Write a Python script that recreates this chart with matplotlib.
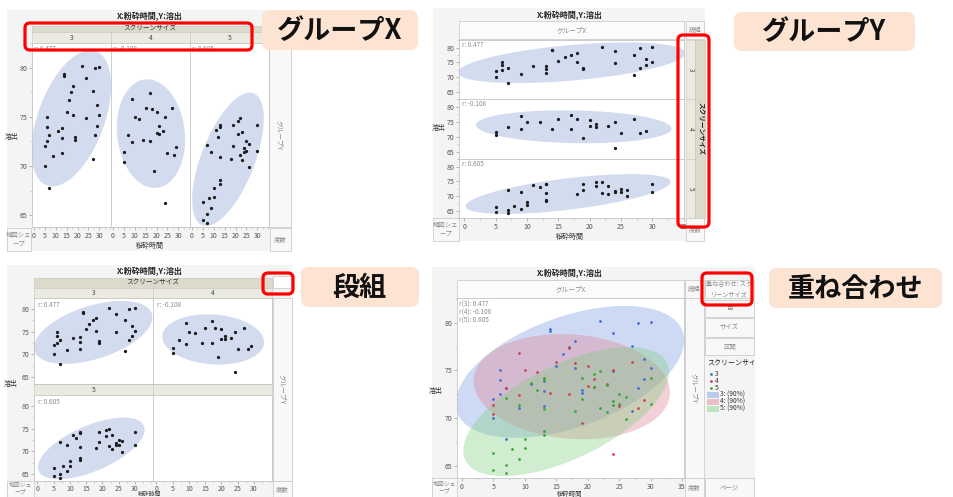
import numpy as np
import matplotlib
matplotlib.use("Agg")
import matplotlib.pyplot as plt
from matplotlib.patches import Rectangle, FancyBboxPatch
from matplotlib.ticker import MultipleLocator

plt.rcParams['font.family'] = ['Noto Sans CJK JP', 'DejaVu Sans']

W, H = 954, 497

# ---- data: grinding time (x) vs dissolution (y) by screen size ----
screen_sizes = ["3", "4", "5"]
r_values = [0.477, -0.108, 0.605]

grind_3 = [5, 5, 6, 6, 6, 7, 7, 9, 11, 13, 13, 13, 14, 14, 15, 16, 17, 18, 18, 19,
           19, 22, 24, 24, 27, 27, 28, 28, 29, 29, 30, 30]
dissol_3 = [72.0, 70.0, 75.0, 74.0, 72.5, 73.1, 67.8, 71.0, 73.6, 73.9, 72.8, 71.3,
            79.3, 79.1, 75.5, 76.7, 77.5, 78.1, 75.2, 72.9, 72.6, 80.2, 78.9, 74.9,
            77.6, 70.7, 80.0, 73.2, 76.2, 74.1, 80.1, 75.2]

grind_4 = [5, 5, 7, 9, 9, 10, 12, 14, 15, 17, 17, 18, 19, 20, 20, 21, 21, 23, 24, 24,
           25, 27, 28, 29]
dissol_4 = [71.4, 70.4, 73.2, 76.8, 72.4, 75.0, 74.8, 72.6, 75.9, 77.4, 72.5, 75.8,
            69.5, 75.5, 73.4, 74.1, 73.3, 73.6, 75.0, 66.2, 71.3, 75.9, 71.1, 71.9]

grind_5 = [5, 5, 7, 7, 7, 8, 9, 9, 10, 10, 11, 12, 13, 13, 13, 13, 13, 18, 19, 19,
           21, 21, 22, 22, 23, 23, 24, 24, 25, 25, 26, 26, 30, 30]
dissol_5 = [66.3, 64.5, 72.1, 65.1, 64.2, 66.7, 71.4, 65.7, 67.8, 66.8, 73.7, 72.9,
            74.2, 74.0, 70.9, 68.6, 68.2, 70.7, 74.2, 72.0, 74.6, 73.3, 74.9, 71.1,
            73.5, 70.6, 71.8, 71.4, 72.5, 71.5, 72.2, 69.9, 74.2, 71.5]

x_ticks_short = [0, 5, 10, 15, 20, 25, 30]
x_ticks_long = [0, 5, 10, 15, 20, 25, 30, 35]
y_ticks = [65, 70, 75, 80]

groups = [(grind_3, dissol_3), (grind_4, dissol_4), (grind_5, dissol_5)]

title_txt = "X:粉砕時間,Y:溶出"
x_name = "粉砕時間"
y_name = "溶出"

# 90% bivariate-normal density ellipse: sqrt(chi2_2(0.90)) = sqrt(-2 ln 0.1)
ELLIPSE_K = np.sqrt(-2 * np.log(0.10))

# ---- styling ----
WIN_BG = "#f4f4f4"
ZONE_BG = "#f8f8f8"
ZONE_EC = "#cdcdcd"
ZONE_TXT = "#8a8a8a"
BAND_DARK = "#dcdacb"
BAND_LIGHT = "#ebeae1"
ELL_FILL = "#d3dcef"
DOT = "#1c1c1c"
OV_DOTS = ["#3d6bd6", "#d03c4e", "#35a535"]
OV_FILLS = ["#7799e0", "#e07f95", "#7fcf7f"]
PEACH = "#fde4d2"
RED = "#ff0000"

fig = plt.figure(figsize=(W / 100, H / 100), dpi=100)
fig.patch.set_facecolor("white")


def pixel_layer(z):
    ax = fig.add_axes([0, 0, 1, 1], zorder=z)
    ax.set_xlim(0, W)
    ax.set_ylim(H, 0)
    ax.axis("off")
    return ax


bg = pixel_layer(0)
fg = pixel_layer(6)


def rect(ax, x0, y0, x1, y1, fc, ec="none", lw=0.6, z=1):
    ax.add_patch(Rectangle((x0, y0), x1 - x0, y1 - y0, facecolor=fc,
                           edgecolor=ec, linewidth=lw, zorder=z))


def txt(ax, x, y, s, size=5, color=ZONE_TXT, ha="center", va="center", **kw):
    ax.text(x, y, s, fontsize=size, color=color, ha=ha, va=va, **kw)


def zone(x0, y0, x1, y1, label=None, size=4.8, rot=0, color=ZONE_TXT, fc=ZONE_BG,
         cy=None, ls=1.3, **kw):
    rect(bg, x0, y0, x1, y1, fc, ZONE_EC, 0.6)
    if label:
        yy = (y0 + y1) / 2 if cy is None else cy
        txt(bg, (x0 + x1) / 2, yy, label, size=size, color=color,
            rotation=rot, linespacing=ls, **kw)


def red_box(x0, y0, x1, y1):
    fg.add_patch(FancyBboxPatch((x0, y0), x1 - x0, y1 - y0,
                                boxstyle="round,pad=0,rounding_size=5",
                                facecolor="none", edgecolor=RED, linewidth=2.3, zorder=8))


def callout(x0, y0, x1, y1, label):
    fg.add_patch(FancyBboxPatch((x0, y0), x1 - x0, y1 - y0,
                                boxstyle="round,pad=0,rounding_size=8",
                                facecolor=PEACH, edgecolor="none", zorder=7))
    txt(fg, (x0 + x1) / 2, (y0 + y1) / 2 + 1, label, size=19.5, color="#111111",
        fontweight="bold", zorder=9)


def plot_axes(x0, y0, x1, y1, xlim, ylim, xt=None, yt=True, xpad=1.2):
    ax = fig.add_axes([x0 / W, 1 - y1 / H, (x1 - x0) / W, (y1 - y0) / H], zorder=2)
    ax.set_xlim(*xlim)
    ax.set_ylim(*ylim)
    ax.set_facecolor("white")
    for sp in ax.spines.values():
        sp.set_color("#c4c4c4")
        sp.set_linewidth(0.6)
    if xt is None:
        ax.set_xticks([])
    else:
        ax.set_xticks(xt)
        ax.xaxis.set_minor_locator(MultipleLocator(2.5))
    if yt:
        ax.set_yticks(y_ticks)
        ax.yaxis.set_minor_locator(MultipleLocator(2.5))
    else:
        ax.set_yticks([])
    ax.tick_params(which="major", length=2.2, width=0.5, color="#9a9a9a",
                   labelsize=5, labelcolor="#555555", pad=1.2)
    ax.tick_params(which="minor", length=1.2, width=0.4, color="#b4b4b4")
    ax.tick_params(axis="x", which="major", pad=xpad)
    return ax


def ellipse_xy(gx, gy, k=ELLIPSE_K, n=240):
    gx = np.asarray(gx, float)
    gy = np.asarray(gy, float)
    vals, vecs = np.linalg.eigh(np.cov(gx, gy))
    t = np.linspace(0, 2 * np.pi, n)
    circ = np.vstack([np.cos(t), np.sin(t)]) * (k * np.sqrt(vals))[:, None]
    pts = vecs @ circ
    return gx.mean() + pts[0], gy.mean() + pts[1]


def draw_group(ax, gx, gy, s=5.5):
    ex, ey = ellipse_xy(gx, gy)
    ax.fill(ex, ey, color=ELL_FILL, lw=0, zorder=1)
    ax.scatter(gx, gy, s=s, color=DOT, lw=0, zorder=3)


def window(x0, y0, x1, y1, cx, ty):
    rect(bg, x0, y0, x1, y1, WIN_BG, "none", 0, z=0)
    txt(bg, cx, ty, title_txt, size=5.8, color="#222222", fontweight="bold")


def r_label(x, y, s):
    txt(fg, x, y, s, size=4.6, color="#8c8c8c", ha="left", zorder=3)


# =================== Panel 1: group X (columns by screen size) ===================
window(7, 10, 292, 251, 150, 16)
rect(bg, 32, 26, 269, 32, BAND_DARK, "#c9c8b8", 0.5)
txt(bg, 150, 29, "スクリーンサイズ", size=4.8, color="#333333")
col_edges = [32, 111, 190, 269]
for i, sz in enumerate(screen_sizes):
    rect(bg, col_edges[i], 32, col_edges[i + 1], 43, BAND_LIGHT, "#cfcdc0", 0.5)
    txt(bg, (col_edges[i] + col_edges[i + 1]) / 2, 37.5, sz, size=4.8, color="#444444")
for i, (gx, gy) in enumerate(groups):
    ax = plot_axes(col_edges[i], 43, col_edges[i + 1], 227, (-0.8, 35.3), (63.8, 82.5),
                   xt=x_ticks_short, yt=(i == 0))
    draw_group(ax, gx, gy)
    r_label(col_edges[i] + 2, 49, f"r: {r_values[i]:.3f}")
zone(269, 43, 291, 227, "グループY", rot=270)
zone(269, 26, 291, 43)
zone(7, 228, 31, 251, "地図シェ\nープ", size=4.6)
zone(270, 228, 291, 251, "度数", size=4.6)
txt(bg, 12, 137, y_name, size=5, color="#333333")
txt(bg, 150, 246, x_name, size=5, color="#333333")
red_box(25, 23, 252, 50)
callout(262, 10, 418, 50, "グループX")

# =================== Panel 2: group Y (rows by screen size) ===================
window(433, 8, 705, 241, 570, 15)
zone(459, 21, 684, 39, "グループX", fc="#fbfbfb")
zone(686, 21, 704, 39, "段組", size=4.6)
row_edges = [40, 99, 159, 218]
for i, (gx, gy) in enumerate(groups):
    ax = plot_axes(459, row_edges[i], 684, row_edges[i + 1], (-0.85, 35.05), (62.5, 82.6),
                   xt=(x_ticks_long if i == 2 else None), yt=True)
    draw_group(ax, gx, gy)
    r_label(462, row_edges[i] + 5, f"r: {r_values[i]:.3f}")
    rect(bg, 686, row_edges[i], 695, row_edges[i + 1], BAND_LIGHT, "#cfcdc0", 0.5)
    txt(bg, 690.5, (row_edges[i] + row_edges[i + 1]) / 2, screen_sizes[i], size=4.6,
        color="#444444", rotation=270)
rect(bg, 695, 40, 705, 218, BAND_DARK, "#c9c8b8", 0.5)
txt(bg, 700.2, 129, "スクリーンサイズ", size=4.8, color="#222222", rotation=270,
    fontweight="bold")
zone(433, 218, 459, 241, "地図シェ\nープ", size=4.6)
zone(686, 218, 704, 241, "度数", size=4.6)
txt(bg, 439, 128, y_name, size=5, color="#333333")
txt(bg, 570, 237, x_name, size=5, color="#333333")
red_box(678, 35, 709, 227)
callout(734, 12, 915, 51, "グループY")

# =================== Panel 3: wrap ===================
window(7, 265, 292, 497, 150, 271)
rect(bg, 34, 278, 272, 288, BAND_DARK, "#c9c8b8", 0.5)
txt(bg, 153, 283, "スクリーンサイズ", size=4.8, color="#333333")
wrap_cells = [(34, 153, 298, 384), (153, 272, 298, 384), (34, 153, 395, 481)]
for i, sz in enumerate(screen_sizes[:2]):
    x0, x1 = wrap_cells[i][0], wrap_cells[i][1]
    rect(bg, x0, 288, x1, 298, BAND_LIGHT, "#cfcdc0", 0.5)
    txt(bg, (x0 + x1) / 2, 293, sz, size=4.8, color="#444444")
rect(bg, 34, 384, 153, 395, BAND_LIGHT, "#cfcdc0", 0.5)
rect(bg, 153, 384, 272, 395, BAND_LIGHT, "#cfcdc0", 0.5)
txt(bg, 93.5, 389.5, screen_sizes[2], size=4.8, color="#444444")
for i, (gx, gy) in enumerate(groups):
    x0, x1, y0, y1 = wrap_cells[i]
    ax = plot_axes(x0, y0, x1, y1, (-1.0, 35.5), (63.5, 82.4),
                   xt=(x_ticks_short if i == 2 else None), yt=(i != 1), xpad=0.4)
    draw_group(ax, gx, gy)
    r_label(x0 + 4, y0 + 7, f"r: {r_values[i]:.3f}")
plot_axes(153, 395, 272, 481, (-1.0, 35.5), (63.5, 82.4), xt=x_ticks_short, yt=False,
          xpad=0.4)
zone(273, 298, 292, 481, "グループY", rot=270)
zone(273, 276, 291, 288, fc="#fdfdfd")
zone(7, 481, 34, 503, "地図シェ\nープ", size=4.2, cy=488.5, ls=1.1)
zone(273, 481, 292, 503, "度数", size=4.6, cy=489)
txt(bg, 11, 384, y_name, size=5, color="#333333")
txt(bg, 150, 494.6, x_name, size=4.2, color="#333333")
red_box(263, 273, 293, 294)
callout(301, 267, 419, 307, "段組")

# =================== Panel 4: overlay ===================
window(432, 267, 755, 497, 570, 273)
zone(457, 280, 684, 298, "グループX", fc="#fbfbfb")
zone(685, 280, 704, 298, "段組", size=4.6)
zone(705, 280, 754, 298, "重ね合わせ: スク\nリーンサイズ", size=4.4)
zone(705, 300, 754, 317, "色", size=4.6)
zone(705, 318, 754, 337, "サイズ", size=4.6)
zone(705, 338, 754, 355, "区間", size=4.6)
ax = plot_axes(457, 298, 684, 478, (-0.8, 35.3), (63.7, 82.6), xt=x_ticks_long, yt=True)
for i, (gx, gy) in enumerate(groups):
    ex, ey = ellipse_xy(gx, gy)
    ax.fill(ex, ey, color=OV_FILLS[i], alpha=0.36, lw=0, zorder=1 + i * 0.1)
for i, (gx, gy) in enumerate(groups):
    ax.scatter(gx, gy, s=3.8, color=OV_DOTS[i], lw=0, zorder=3)
for i in range(3):
    r_label(459, 305 + 8 * i, f"r({screen_sizes[i]}): {r_values[i]:.3f}")
zone(685, 298, 704, 478, "グループY", rot=270)
zone(432, 478, 457, 503, "地図シェ\nープ", size=4.2, cy=487.5, ls=1.1)
zone(685, 478, 704, 503, "度数", size=4.6, cy=487.5)
zone(705, 478, 754, 503, "ページ", size=4.6, cy=488)
txt(bg, 436, 391, y_name, size=5, color="#333333")
txt(bg, 570, 494, x_name, size=4.6, color="#333333")

# legend, clipped to its column
leg = fig.add_axes([705 / W, 1 - 478 / H, 49 / W, 122 / H], zorder=3)
leg.set_xlim(0, 49)
leg.set_ylim(122, 0)
leg.axis("off")
leg.text(2, 7, "スクリーンサイズ", fontsize=5, color="#222222", ha="left", va="center",
         clip_on=True)
for i, sz in enumerate(screen_sizes):
    yy = 18 + 7 * i
    leg.scatter([6], [yy], s=3.8, color=OV_DOTS[i], lw=0, clip_on=True)
    leg.text(10, yy, sz, fontsize=4.8, color="#333333", ha="left", va="center")
for i, sz in enumerate(screen_sizes):
    yy = 39 + 7 * i
    leg.add_patch(Rectangle((2, yy - 3), 12, 6, facecolor=OV_FILLS[i], alpha=0.45,
                            edgecolor="none"))
    leg.text(15, yy, f"{sz}: (90%)", fontsize=4.8, color="#333333", ha="left",
             va="center")

red_box(702, 273, 752, 305)
callout(769, 268, 942, 308, "重ね合わせ")

fig.savefig("out.png", dpi=100)
